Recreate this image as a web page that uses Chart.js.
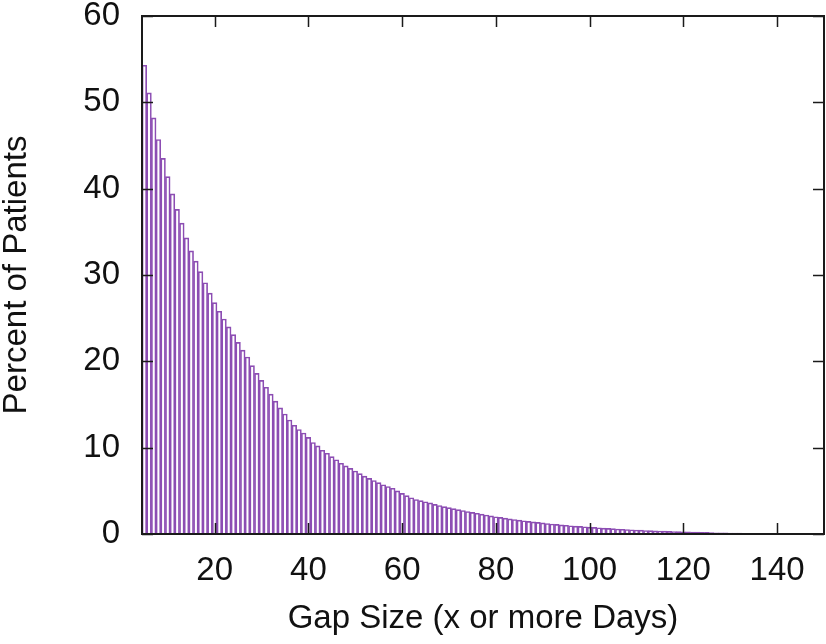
<!DOCTYPE html>
<html>
<head>
<meta charset="utf-8">
<script src="https://cdn.jsdelivr.net/npm/chart.js@4"></script>
<style>
  html, body { margin: 0; padding: 0; background: #fff; }
  #wrap { width: 826px; height: 644px; }
</style>
</head>
<body>
<div id="wrap"><canvas id="myChart"></canvas></div>
<script>
// gap size in days, one bar per day starting at firstDay
var firstDay = 5;

// percent of patients with a gap of x or more days
var percent = [
  54.3, 51.1, 48.2, 45.7, 43.5, 41.4, 39.4, 37.6, 36.0, 34.3,
  32.8, 31.6, 30.4, 29.1, 27.9, 26.8, 25.8, 24.9, 24.0, 23.1,
  22.2, 21.3, 20.5, 19.5, 18.6, 17.8, 17.0, 16.2, 15.4, 14.6,
  13.9, 13.2, 12.6, 12.1, 11.7, 11.2, 10.6, 10.2, 9.7, 9.35,
  8.96, 8.6, 8.2, 7.9, 7.6, 7.3, 7.0, 6.7, 6.45, 6.2,
  5.95, 5.7, 5.5, 5.3, 5.0, 4.7, 4.45, 4.2, 4.0, 3.86,
  3.74, 3.6, 3.44, 3.3, 3.17, 3.05, 2.93, 2.82, 2.72, 2.61,
  2.5, 2.4, 2.3, 2.2, 2.1, 2.0, 1.92, 1.84, 1.76, 1.68,
  1.6, 1.53, 1.46, 1.4, 1.34, 1.28, 1.22, 1.16, 1.11, 1.06,
  1.01, 0.96, 0.92, 0.88, 0.84, 0.8, 0.76, 0.72, 0.68, 0.65,
  0.62, 0.58, 0.55, 0.52, 0.49, 0.46, 0.44, 0.41, 0.39, 0.37,
  0.35, 0.33, 0.31, 0.29, 0.27, 0.25, 0.24, 0.22, 0.21, 0.19,
  0.18, 0.17, 0.15, 0.14, 0.13, 0.12, 0.11, 0.1, 0.09, 0.08,
  0.07, 0.06, 0.05
];

var xTicks = [20, 40, 60, 80, 100, 120, 140];
var yTicks = [0, 10, 20, 30, 40, 50, 60];

var points = percent.map(function (v, i) {
  return { x: firstDay + i, y: v };
});

var FONT = "'Liberation Sans', Arial, Helvetica, sans-serif";

// gnuplot style frame with inward ticks on all four sides
var frame = {
  id: 'frame',
  afterDatasetsDraw: function (chart) {
    var ctx = chart.ctx;
    var a = chart.chartArea;
    var xs = chart.scales.x, ys = chart.scales.y;
    var len = 11;
    ctx.save();
    ctx.strokeStyle = '#1a1a1a';
    ctx.lineWidth = 1.5;
    ctx.beginPath();
    xTicks.forEach(function (v) {
      var px = Math.round(xs.getPixelForValue(v)) + 0.5;
      ctx.moveTo(px, a.bottom); ctx.lineTo(px, a.bottom - len);
      ctx.moveTo(px, a.top); ctx.lineTo(px, a.top + len);
    });
    yTicks.forEach(function (v) {
      var py = Math.round(ys.getPixelForValue(v)) + 0.5;
      ctx.moveTo(a.left, py); ctx.lineTo(a.left + len, py);
      ctx.moveTo(a.right, py); ctx.lineTo(a.right - len, py);
    });
    ctx.stroke();
    ctx.lineWidth = 2;
    ctx.strokeRect(a.left, a.top, a.right - a.left, a.bottom - a.top);
    ctx.restore();
  }
};

var ctx = document.getElementById("myChart");

var myChart = new Chart(ctx, {
  type: 'bar',
  data: {
    datasets: [
      {
        data: points,
        label: "Percent of Patients",
        backgroundColor: "rgba(255,255,255,0)",
        borderColor: "#8c4db3",
        borderWidth: 1,
        barPercentage: 1,
        categoryPercentage: 1
      }
    ]
  },
  options: {
    responsive: true,
    maintainAspectRatio: false,
    animation: false,
    layout: { padding: { top: 16, right: 2, left: 0, bottom: 0 } },
    plugins: {
      legend: { display: false },
      tooltip: { enabled: false }
    },
    scales: {
      x: {
        type: 'linear',
        min: 4.5,
        max: 150,
        offset: false,
        grid: { display: false, drawTicks: false, offset: false },
        border: { display: false },
        afterBuildTicks: function (scale) {
          scale.ticks = xTicks.map(function (v) { return { value: v }; });
        },
        afterFit: function (scale) {
          scale.height = 110;
          scale.paddingLeft = 0;
          scale.paddingRight = 0;
        },
        ticks: {
          color: '#111',
          padding: 17,
          maxRotation: 0,
          autoSkip: false,
          font: { family: FONT, size: 33 }
        },
        title: {
          display: true,
          text: 'Gap Size (x or more Days)',
          color: '#111',
          padding: { top: 0, bottom: 9 },
          font: { family: FONT, size: 33, lineHeight: 1 }
        }
      },
      y: {
        min: 0,
        max: 60,
        grid: { display: false, drawTicks: false },
        border: { display: false },
        afterBuildTicks: function (scale) {
          scale.ticks = yTicks.map(function (v) { return { value: v }; });
        },
        afterFit: function (scale) {
          scale.width = 142;
          scale.paddingTop = 0;
          scale.paddingBottom = 0;
        },
        ticks: {
          color: '#111',
          padding: 22,
          font: { family: FONT, size: 33 }
        },
        title: {
          display: true,
          text: 'Percent of Patients',
          color: '#111',
          padding: { top: 0, bottom: 0 },
          font: { family: FONT, size: 33, lineHeight: 1 }
        }
      }
    }
  },
  plugins: [frame]
});
</script>
</body>
</html>
